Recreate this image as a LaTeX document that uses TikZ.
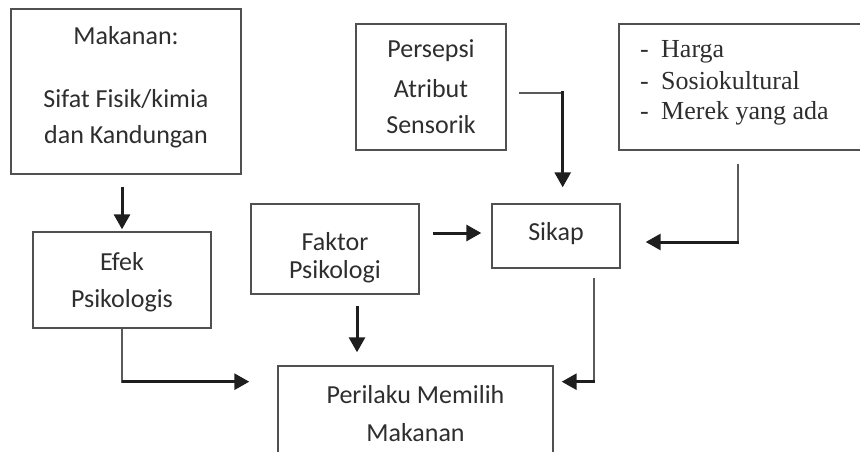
\documentclass[tikz,border=0pt]{standalone}
\usepackage{fontspec}
\setmainfont{Carlito}
\newfontfamily\serifft{Liberation Serif}
\usetikzlibrary{arrows.meta,calc}
\definecolor{boxgray}{HTML}{505050}
\definecolor{textgray}{HTML}{2E2E2E}
\definecolor{linegray}{HTML}{5A5A5A}
\definecolor{arrowblack}{HTML}{1E1E1E}
\begin{document}
\begin{tikzpicture}[x=1pt,y=-1pt,
  box/.style={draw=boxgray, line width=1.4pt, inner sep=0pt},
  txt/.style={anchor=base, inner sep=0pt, text=textgray, font=\fontsize{26}{30}\selectfont},
  stxt/.style={anchor=base west, inner sep=0pt, text=textgray, font=\serifft\fontsize{26}{30}\selectfont},
  thinline/.style={draw=linegray, line width=1.5pt},
  arr/.style={draw=arrowblack, line width=3pt, -{Triangle[length=15pt,width=16pt]}}]
\useasboundingbox (0,0) rectangle (860,452);
\clip (0,0) rectangle (860,452);

% boxes
\node[box, minimum width=230pt, minimum height=165pt] (makanan) at (126,91.5) {};
\node[box, minimum width=150pt, minimum height=126pt] (persepsi) at (431,87) {};
\node[box, minimum width=261pt, minimum height=126pt] (harga) at (749.5,87) {};
\node[box, minimum width=178pt, minimum height=96pt] (efek) at (122,280) {};
\node[box, minimum width=168pt, minimum height=90pt] (faktor) at (335,249) {};
\node[box, minimum width=128pt, minimum height=64pt] (sikap) at (556,236) {};
\node[box, minimum width=275pt, minimum height=104pt] (perilaku) at (415.5,418) {};

% texts
\node[txt] (mk1) at (126,45) {Makanan:};
\node[txt] (mk2) at (126,107) {Sifat Fisik/kimia};
\node[txt] (mk3) at (126,143) {dan Kandungan};
\node[txt] (ps1) at (431,58) {Persepsi};
\node[txt] (ps2) at (431,97) {Atribut};
\node[txt] (ps3) at (431,133) {Sensorik};
\node[stxt] (hg1) at (640,58) {\makebox[21pt][l]{-}Harga};
\node[stxt] (hg2) at (640,89) {\makebox[21pt][l]{-}Sosiokultural};
\node[stxt] (hg3) at (640,119) {\makebox[21pt][l]{-}Merek yang ada};
\node[txt] (ef1) at (122,270) {Efek};
\node[txt] (ef2) at (122,307) {Psikologis};
\node[txt] (fk1) at (335,250) {Faktor};
\node[txt] (fk2) at (335,278) {Psikologi};
\node[txt] (sk1) at (556,240) {Sikap};
\node[txt] (pr1) at (415.5,403) {Perilaku Memilih};
\node[txt] (pr2) at (415.5,441) {Makanan};

% connectors
\draw[arr] ($(makanan.south -| efek.north)+(0,12)$) -- ($(efek.north)+(0,-2)$);

\coordinate (ec) at ($(efek.south)+(0,53)$);
\draw[thinline] (efek.south) -- ($(ec)+(0,1.5)$);
\draw[arr] (ec) -- ($(perilaku.west |- ec)+(-28,0)$);

\draw[arr] ($(faktor.south)+(22,11)$) -- ($(faktor.south |- perilaku.north)+(22,-13)$);

\draw[arr] ($(faktor.east |- sikap.west)+(13,-3)$) -- ($(sikap.west)+(-10,-3)$);

\coordinate (pc) at ($(persepsi.east)+(56,6)$);
\draw[thinline] ($(persepsi.east)+(12,6)$) -- (pc);
\draw[arr] ($(pc)+(0,-1.5)$) -- ($(pc |- sikap.north)+(0,-16)$);

\coordinate (hc) at ($(harga.center |- sikap.east)+(-11.5,6)$);
\draw[thinline] ($(harga.south)+(-11.5,13)$) -- ($(hc)+(0,1.5)$);
\draw[arr] ($(hc)+(0.75,0)$) -- ($(sikap.east |- hc)+(25,0)$);

\coordinate (sc) at ($(sikap.south |- ec)+(38,0)$);
\draw[thinline] ($(sikap.south)+(38,9)$) -- ($(sc)+(0,1.5)$);
\draw[arr] ($(sc)+(0.75,0)$) -- ($(perilaku.east |- sc)+(8,0)$);
\end{tikzpicture}
\end{document}
